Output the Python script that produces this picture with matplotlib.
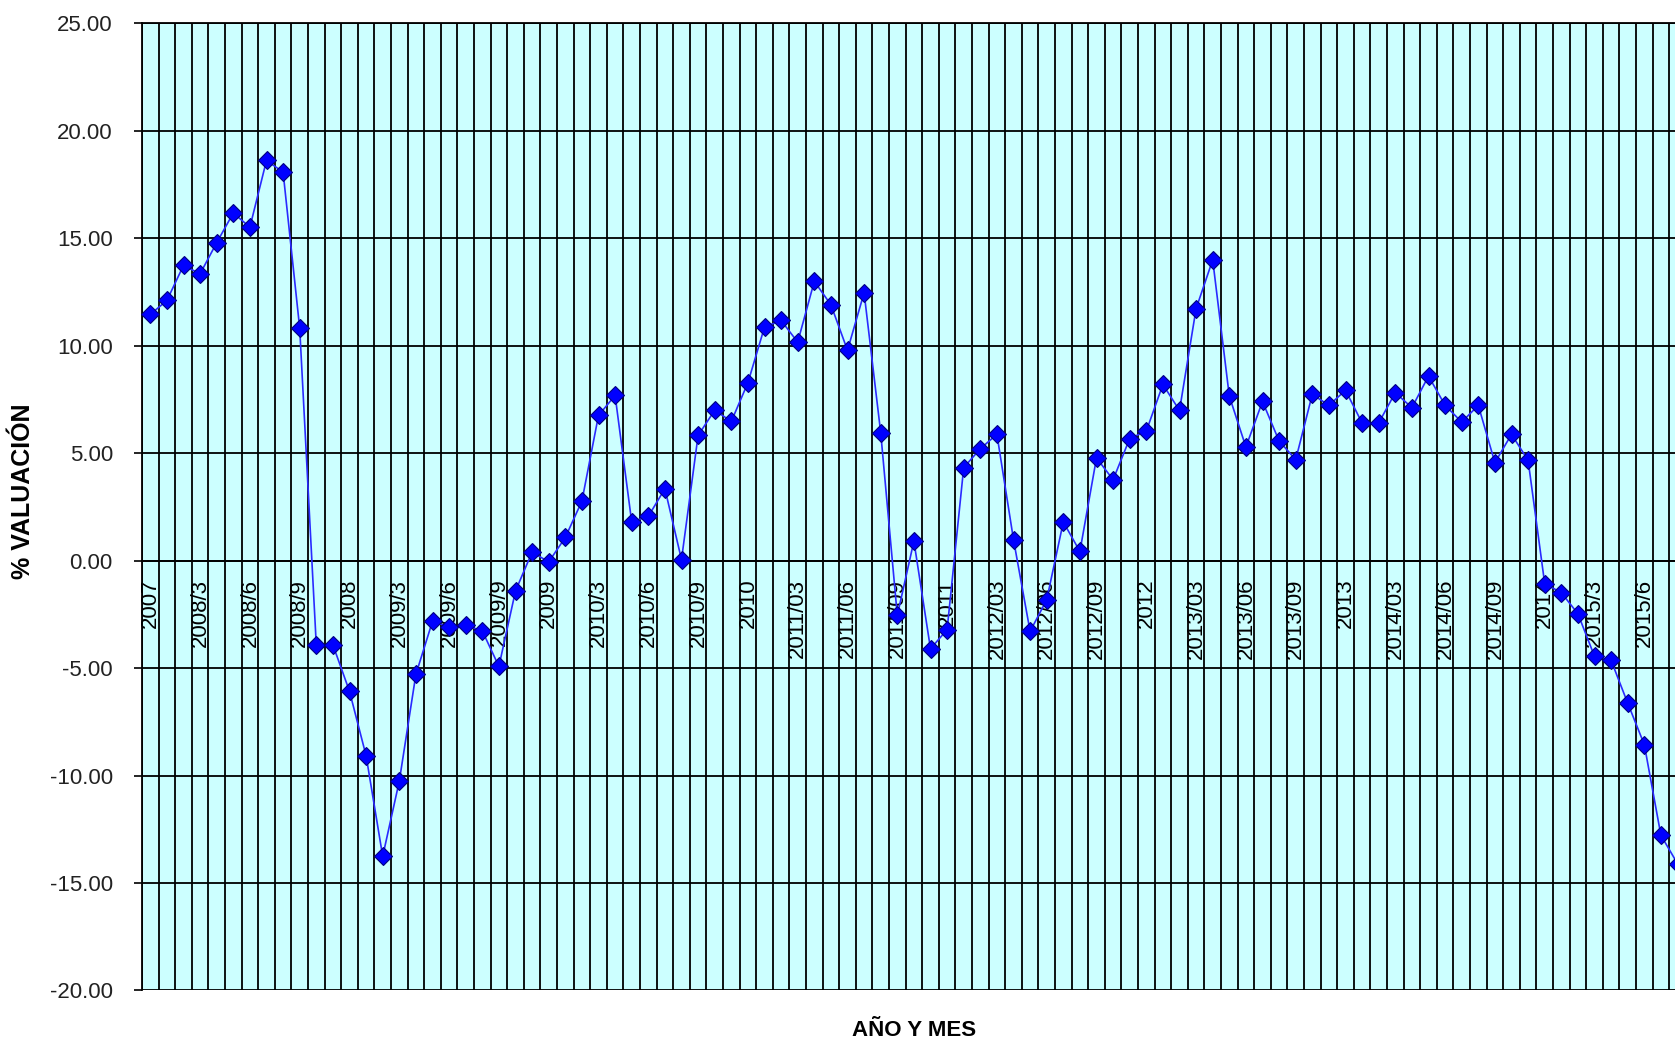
import matplotlib
matplotlib.use("Agg")
import matplotlib.pyplot as plt
import numpy as np

# ---- data ----
values = [11.46, 12.11, 13.74, 13.35, 14.80, 16.18, 15.52, 18.63, 18.08, 10.82,
          -3.94, -3.92, -6.08, -9.08, -13.76, -10.26, -5.29, -2.82, -3.09, -3.01,
          -3.27, -4.92, -1.41, 0.40, -0.06, 1.08, 2.77, 6.76, 7.69, 1.80,
          2.06, 3.35, 0.05, 5.83, 7.00, 6.48, 8.28, 10.87, 11.18, 10.17,
          13.00, 11.91, 9.79, 12.47, 5.96, -2.55, 0.91, -4.10, -3.21, 4.33,
          5.21, 5.88, 0.98, -3.29, -1.82, 1.80, 0.43, 4.78, 3.77, 5.68,
          6.03, 8.20, 6.99, 11.73, 14.00, 7.66, 5.29, 7.41, 5.57, 4.70,
          7.74, 7.23, 7.93, 6.41, 6.41, 7.82, 7.12, 8.59, 7.23, 6.45,
          7.23, 4.56, 5.88, 4.67, -1.07, -1.49, -2.47, -4.45, -4.64, -6.63,
          -8.56, -12.78, -14.10]

tick_labels = ["2007", "2008/3", "2008/6", "2008/9", "2008", "2009/3", "2009/6", "2009/9",
               "2009", "2010/3", "2010/6", "2010/9", "2010", "2011/03", "2011/06", "2011/09",
               "2011", "2012/03", "2012/06", "2012/09", "2012", "2013/03", "2013/06", "2013/09",
               "2013", "2014/03", "2014/06", "2014/09", "2014", "2015/3", "2015/6"]
label_step = 3
y_ticks = [25, 20, 15, 10, 5, 0, -5, -10, -15, -20]

x_title = "AÑO Y MES"
y_title = "% VALUACIÓN"

plt.rcParams['font.family'] = ['Liberation Sans', 'DejaVu Sans']

W, H = 1675, 1044
fig = plt.figure(figsize=(W / 100, H / 100), dpi=100)
n = len(values)
left_px, top_px, bottom_px = 142, 23.5, 990.4
cat_w = 16.6
ax = fig.add_axes([left_px / W, (H - bottom_px) / H, n * cat_w / W, (bottom_px - top_px) / H])
ax.set_facecolor('#CCFFFF')

# move category axis to y = 0 first (this resets the ticks)
ax.spines['bottom'].set_position(('data', 0))

x = np.arange(n)
ax.plot(x, values, color='#2A2AFF', lw=1.2, marker='D', markersize=9,
        markerfacecolor='#0000FF', markeredgecolor='#000080', markeredgewidth=0.8,
        zorder=5, clip_on=False)

ax.set_xlim(-0.5, n - 0.5)
ax.set_ylim(-20, 25)

# vertical grid at category boundaries
ax.set_xticks(np.arange(-0.5, n, 1.0), minor=True)
ax.grid(True, which='minor', axis='x', color='black', lw=1.3)
ax.set_yticks(y_ticks)
ax.set_yticklabels([f"{v:.2f}" for v in y_ticks])
ax.grid(True, which='major', axis='y', color='black', lw=1.3)
ax.set_axisbelow(True)

ax.set_xticks(np.arange(0, len(tick_labels) * label_step, label_step))
ax.set_xticklabels(tick_labels)
ax.tick_params(axis='x', which='both', length=0, pad=13, labelrotation=90, labelsize=16)
ax.spines['bottom'].set_color('black')
ax.spines['bottom'].set_linewidth(1.3)
ax.tick_params(axis='y', which='major', length=6, width=1.2, pad=15,
               labelsize=16, labelcolor='#222222', direction='out')
ax.tick_params(axis='y', which='minor', length=0)
for s in ['left', 'top']:
    ax.spines[s].set_color('black')
    ax.spines[s].set_linewidth(1.3)
ax.spines['right'].set_visible(False)

fig.text(914 / W, 1 - 1031 / H, x_title, ha='center', va='center',
         fontsize=16, fontweight='bold')
fig.text(23 / W, 1 - 491 / H, y_title, ha='center', va='center', rotation=90,
         fontsize=18, fontweight='bold')

fig.savefig('out.png', dpi=100)
